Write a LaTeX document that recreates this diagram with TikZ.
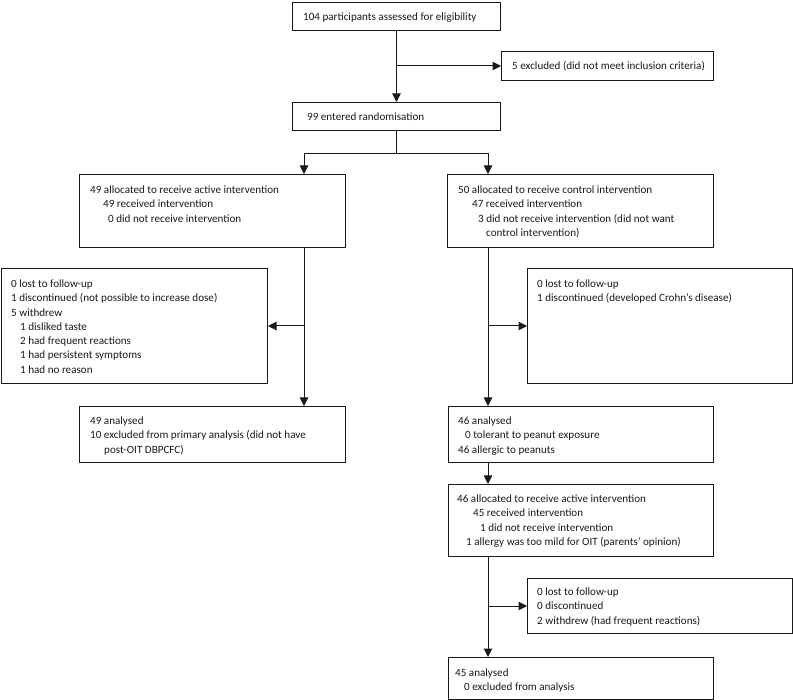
\documentclass[tikz,border=0pt]{standalone}
\usepackage{fontspec}
\setmainfont{Carlito}
\usetikzlibrary{arrows.meta}
\tikzset{
  box/.style={draw=black!90, line width=1pt, anchor=north west, inner sep=0pt},
  txt/.style={anchor=north west, inner sep=0pt, align=left, text=black!90, yshift=-1.5pt, font=\fontsize{11.1}{14.3}\selectfont},
  arr/.style={draw=black!90, line width=1pt, -{Triangle[width=8.5pt,length=8.5pt]}},
  ln/.style={draw=black!90, line width=1pt}
}
\newcommand{\ind}[1]{\hspace*{#1pt}}
\begin{document}
\begin{tikzpicture}[x=1pt,y=-1pt]
\useasboundingbox (0,0) rectangle (793,700);
% boxes
\node[box, minimum width=208pt, minimum height=28pt] (b1) at (292,2) {};
\node[box, minimum width=212pt, minimum height=29pt] (ex) at (501,51) {};
\node[box, minimum width=208pt, minimum height=28pt] (b2) at (292,102) {};
\node[box, minimum width=266pt, minimum height=73pt] (a1) at (79,174) {};
\node[box, minimum width=266pt, minimum height=73pt] (a2) at (447,174) {};
\node[box, minimum width=266pt, minimum height=115pt] (f1) at (1,268) {};
\node[box, minimum width=265pt, minimum height=115pt] (f2) at (527,268) {};
\node[box, minimum width=266pt, minimum height=56pt] (n1) at (79,406) {};
\node[box, minimum width=265pt, minimum height=56pt] (n2) at (448,406) {};
\node[box, minimum width=265pt, minimum height=72pt] (a3) at (448,484) {};
\node[box, minimum width=265pt, minimum height=55pt] (f3) at (527,578) {};
\node[box, minimum width=265pt, minimum height=42pt] (n3) at (448,657) {};
% texts
\node[txt] (t1) at (303,11) {104 participants assessed for eligibility};
\node[txt] (tex) at (512,60) {5 excluded (did not meet inclusion criteria)};
\node[txt] (t2) at (307,111) {99 entered randomisation};
\node[txt] (ta1) at (90,184) {49 allocated to receive active intervention\\
\ind{13}49 received intervention\\
\ind{18}0 did not receive intervention};
\node[txt] (ta2) at (458,184) {50 allocated to receive control intervention\\
\ind{14}47 received intervention\\
\ind{20}3 did not receive intervention (did not want\\
\ind{28}control intervention)};
\node[txt] (tf1) at (11,278) {0 lost to follow-up\\
1 discontinued (not possible to increase dose)\\
5 withdrew\\
\ind{9}1 disliked taste\\
\ind{9}2 had frequent reactions\\
\ind{9}1 had persistent symptoms\\
\ind{9}1 had no reason};
\node[txt] (tf2) at (537,278) {0 lost to follow-up\\
1 discontinued (developed Crohn’s disease)};
\node[txt] (tn1) at (90,415) {49 analysed\\
10 excluded from primary analysis (did not have\\
\ind{14}post-OIT DBPCFC)};
\node[txt] (tn2) at (458,415) {46 analysed\\
\ind{7}0 tolerant to peanut exposure\\
46 allergic to peanuts};
\node[txt] (ta3) at (457,493) {46 allocated to receive active intervention\\
\ind{16}45 received intervention\\
\ind{23}1 did not receive intervention\\
\ind{9}1 allergy was too mild for OIT (parents’ opinion)};
\node[txt] (tf3) at (537,586) {0 lost to follow-up\\
0 discontinued\\
2 withdrew (had frequent reactions)};
\node[txt] (tn3) at (455,667) {45 analysed\\
\ind{9}0 excluded from analysis};
% helper coordinates
\coordinate (sp) at ([yshift=-23pt]b2.south);
\coordinate (a1in) at ([xshift=225pt]a1.north west);
\coordinate (a1out) at ([xshift=225pt]a1.south west);
\coordinate (n1in) at ([xshift=225pt]n1.north west);
\coordinate (a2in) at ([xshift=41pt]a2.north west);
\coordinate (a2out) at ([xshift=41pt]a2.south west);
\coordinate (n2in) at ([xshift=40pt]n2.north west);
\coordinate (n2out) at ([xshift=40pt]n2.south west);
\coordinate (a3in) at ([xshift=40pt]a3.north west);
\coordinate (a3out) at ([xshift=40pt]a3.south west);
\coordinate (n3in) at ([xshift=40pt]n3.north west);
% connectors
\draw[arr] (b1.south) -- (b2.north);
\draw[arr] (b1.south |- ex.west) -- (ex.west);
\draw[ln] (b2.south) -- (sp);
\draw[arr] (sp) -| (a1in);
\draw[arr] (sp) -| (a2in);
\draw[arr] (a1out) -- (n1in);
\draw[arr] (a1out |- f1.east) -- (f1.east);
\draw[arr] (a2out) -- (n2in);
\draw[arr] (a2out |- f2.west) -- (f2.west);
\draw[arr] (n2out) -- (a3in);
\draw[arr] (a3out) -- (n3in);
\draw[arr] (a3out |- f3.west) -- (f3.west);
\end{tikzpicture}
\end{document}
